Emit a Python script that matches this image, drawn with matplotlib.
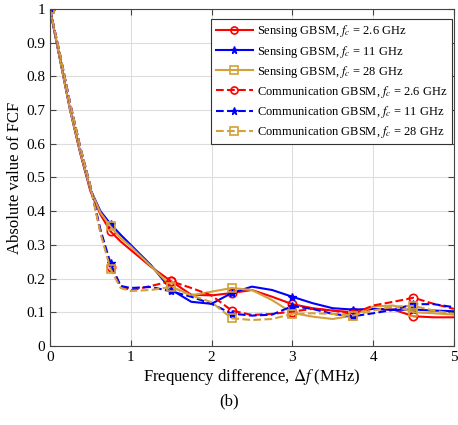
import matplotlib.pyplot as plt
import numpy as np

plt.rcParams['font.family'] = 'Liberation Serif'
plt.rcParams['mathtext.fontset'] = 'stix'

# frequency difference (MHz)
df = [0, 0.125, 0.25, 0.375, 0.5, 0.625, 0.75, 0.875, 1.0, 1.25, 1.5, 1.75, 2.0, 2.25,
      2.5, 2.75, 3.0, 3.25, 3.5, 3.75, 4.0, 4.25, 4.5, 4.75, 5.0]
mark_idx = [0, 6, 10, 13, 16, 19, 22]

sens_26 = [1.0, 0.85, 0.70, 0.572, 0.46, 0.39, 0.34, 0.31, 0.285, 0.235, 0.192, 0.152, 0.150, 0.157,
           0.166, 0.146, 0.124, 0.112, 0.105, 0.100, 0.110, 0.108, 0.088, 0.085, 0.085]
sens_11 = [1.0, 0.85, 0.70, 0.575, 0.465, 0.40, 0.362, 0.33, 0.30, 0.24, 0.167, 0.131, 0.125, 0.157,
           0.176, 0.166, 0.146, 0.127, 0.112, 0.108, 0.110, 0.107, 0.108, 0.105, 0.103]
sens_28 = [1.0, 0.85, 0.70, 0.575, 0.465, 0.395, 0.355, 0.32, 0.295, 0.237, 0.177, 0.150, 0.161, 0.172,
           0.166, 0.136, 0.098, 0.087, 0.080, 0.090, 0.117, 0.120, 0.100, 0.097, 0.093]
comm_26 = [1.0, 0.865, 0.72, 0.59, 0.475, 0.34, 0.235, 0.178, 0.165, 0.178, 0.192, 0.172, 0.150, 0.105,
           0.092, 0.095, 0.102, 0.110, 0.105, 0.095, 0.120, 0.131, 0.143, 0.125, 0.110]
comm_11 = [1.0, 0.865, 0.72, 0.59, 0.475, 0.345, 0.245, 0.178, 0.172, 0.175, 0.162, 0.146, 0.125, 0.096,
           0.090, 0.093, 0.118, 0.110, 0.095, 0.088, 0.097, 0.107, 0.124, 0.124, 0.115]
comm_28 = [1.0, 0.865, 0.72, 0.59, 0.475, 0.335, 0.228, 0.172, 0.163, 0.166, 0.175, 0.150, 0.130, 0.082,
           0.077, 0.080, 0.095, 0.097, 0.095, 0.090, 0.105, 0.117, 0.119, 0.105, 0.095]

gold = '#D4A03A'

fig = plt.figure(figsize=(4.58, 4.25), dpi=100)
ax = fig.add_axes([0.109, 0.186, 0.882, 0.793])

ax.plot(df, sens_26, '-', color='red', lw=1.5, marker='o', ms=6, mfc='none', mew=1.2,
        markevery=mark_idx, label='Sensing GBSM, $f_c$ = 2.6 GHz')
ax.plot(df, sens_11, '-', color='blue', lw=1.5, marker='*', ms=6,
        markevery=mark_idx, label='Sensing GBSM, $f_c$ = 11 GHz')
ax.plot(df, sens_28, '-', color=gold, lw=1.5, marker='s', ms=6, mfc='none', mew=1.2,
        markevery=mark_idx, label='Sensing GBSM, $f_c$ = 28 GHz')
ax.plot(df, comm_26, '--', color='red', lw=1.5, marker='o', ms=6, mfc='none', mew=1.2,
        markevery=mark_idx, label='Communication GBSM, $f_c$ = 2.6 GHz')
ax.plot(df, comm_11, '--', color='blue', lw=1.5, marker='*', ms=6,
        markevery=mark_idx, label='Communication GBSM, $f_c$ = 11 GHz')
ax.plot(df, comm_28, '--', color=gold, lw=1.5, marker='s', ms=6, mfc='none', mew=1.2,
        markevery=mark_idx, label='Communication GBSM, $f_c$ = 28 GHz')

ax.set_xlim(0, 5)
ax.set_ylim(0, 1)
ax.set_xticks(np.arange(0, 6, 1))
ax.set_yticks(np.arange(0, 1.01, 0.1))
ax.set_yticklabels(['0', '0.1', '0.2', '0.3', '0.4', '0.5', '0.6', '0.7', '0.8', '0.9', '1'])
ax.tick_params(direction='in', top=True, right=True, labelsize=11, length=4, color='#444444')
ax.grid(True, color='#dddddd', lw=0.8)
for s in ax.spines.values():
    s.set_color('#444444')

ax.set_xlabel('Frequency difference, $\\Delta f$ (MHz)', fontsize=12, labelpad=2)
ax.set_ylabel('Absolute value of FCF', fontsize=12, labelpad=2)

leg = ax.legend(loc='upper right', bbox_to_anchor=(0.995, 0.97), borderaxespad=0,
                fontsize=9, frameon=True, fancybox=False, edgecolor='#333333', framealpha=1,
                handlelength=3.0, handletextpad=0.3, borderpad=0.35, labelspacing=0.33,
                markerscale=0.85)
leg.get_frame().set_linewidth(0.8)

fig.text(0.5, 0.045, '(b)', ha='center', fontsize=12)

fig.savefig('out.png')
